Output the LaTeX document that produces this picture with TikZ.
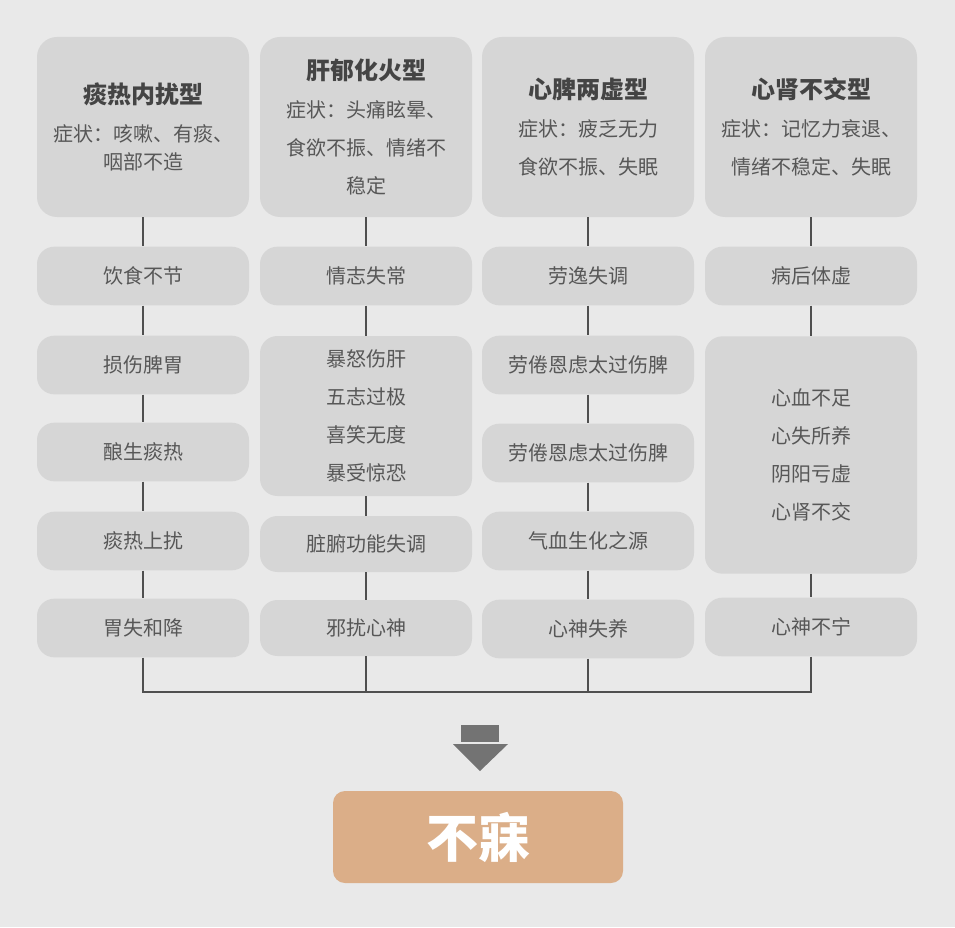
\documentclass[tikz,border=0pt]{standalone}
\usepackage{fontspec}
\setmainfont{Noto Sans CJK SC}
\usetikzlibrary{positioning}

\definecolor{bgc}{HTML}{E9E9E9}
\definecolor{boxc}{HTML}{D6D6D6}
\definecolor{txtc}{HTML}{575757}
\definecolor{ttlc}{HTML}{444444}
\definecolor{linec}{HTML}{4F4F4F}
\definecolor{arrc}{HTML}{737373}
\definecolor{resc}{HTML}{DBAE88}
\newcommand\ttl{\bfseries\fontsize{18}{28.5}\selectfont\color{ttlc}}

\begin{document}
\begin{tikzpicture}[x=0.75pt, y=-0.75pt,
  box/.style={fill=boxc, rounded corners=13pt, minimum width=159pt, inner sep=0pt,
    text=txtc, align=center, font=\fontsize{15}{28.5}\selectfont},
  hbox/.style={box, minimum height=135pt, rounded corners=15pt},
  sbox/.style={box, minimum height=44pt},
  link/.style={draw=linec, line width=1.4pt}]
  \useasboundingbox[fill=bgc] (0,0) rectangle (955,927);

  % Headers
  \node[hbox] (h1) at (143,127) {{\ttl 痰热内扰型}\\症状：咳嗽、有痰、\\[-7pt]咽部不造};
  \node[hbox] (h2) at (366,127) {{\ttl 肝郁化火型}\\症状：头痛眩晕、\\食欲不振、情绪不\\稳定};
  \node[hbox] (h3) at (588,127) {{\ttl 心脾两虚型}\\症状：疲乏无力\\食欲不振、失眠};
  \node[hbox] (h4) at (811,127) {{\ttl 心肾不交型}\\症状：记忆力衰退、\\情绪不稳定、失眠};

  % Column 1
  \node[sbox] (n1) at (143,276) {饮食不节};
  \node[sbox] (a1) at (143,365) {损伤脾胃};
  \node[sbox] (b1) at (143,452) {酿生痰热};
  \node[sbox] (c1) at (143,541) {痰热上扰};
  \node[sbox] (d1) at (143,628) {胃失和降};

  % Column 2
  \node[sbox] (n2) at (366,276) {情志失常};
  \node[box, minimum height=120pt] (a2) at (366,416) {暴怒伤肝\\五志过极\\喜笑无度\\暴受惊恐};
  \node[box, minimum height=42pt] (c2) at (366,544) {脏腑功能失调};
  \node[box, minimum height=42pt] (d2) at (366,628) {邪扰心神};

  % Column 3
  \node[sbox] (n3) at (588,276) {劳逸失调};
  \node[sbox] (a3) at (588,365) {劳倦恩虑太过伤脾};
  \node[sbox] (b3) at (588,453) {劳倦恩虑太过伤脾};
  \node[sbox] (c3) at (588,541) {气血生化之源};
  \node[sbox] (d3) at (588,629) {心神失养};

  % Column 4
  \node[sbox] (n4) at (811,276) {病后体虚};
  \node[box, minimum height=178pt] (a4) at (811,455) {心血不足\\心失所养\\阴阳亏虚\\心肾不交};
  \node[sbox] (d4) at (811,627) {心神不宁};

  % Vertical links
  \foreach \a/\b in {h1/n1, n1/a1, a1/b1, b1/c1, c1/d1,
                     h2/n2, n2/a2, a2/c2, c2/d2,
                     h3/n3, n3/a3, a3/b3, b3/c3, c3/d3,
                     h4/n4, n4/a4, a4/d4}
    \draw[link] (\a) -- (\b);

  % Joining line
  \foreach \i/\x in {1/143, 2/366, 3/588, 4/811}
    \coordinate (j\i) at (\x,692);
  \foreach \i in {1,...,4}
    \draw[link] (d\i.south) -- (j\i);
  \draw[link, line cap=rect] (j1) -- (j4);

  % Down arrow
  \fill[arrc] (461,725) rectangle (499,742);
  \fill[arrc] (453,744) -- (508,744) -- (480,771) -- cycle;

  % Result
  \node[fill=resc, rounded corners=9pt, minimum width=217.5pt, minimum height=69pt,
    text=white, font=\bfseries\fontsize{39}{44}\selectfont] (res) at (478,837) {不寐};
\end{tikzpicture}
\end{document}
